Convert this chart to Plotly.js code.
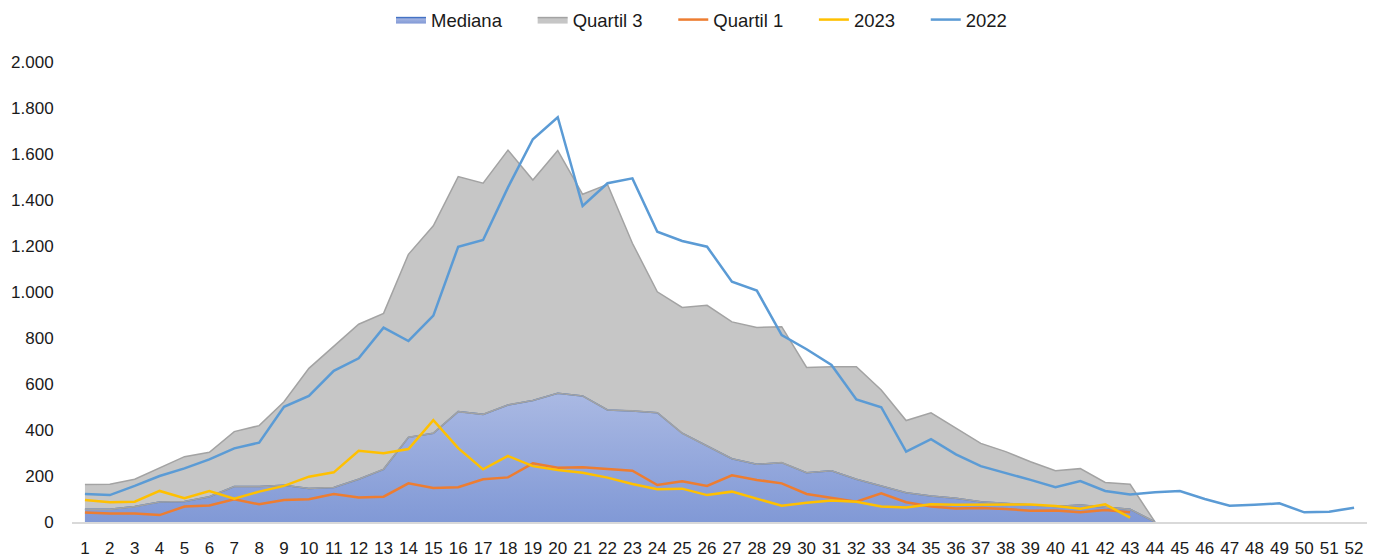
<!DOCTYPE html>
<html>
<head>
<meta charset="utf-8">
<script src="https://cdn.plot.ly/plotly-3.0.1.min.js"></script>
<style>html,body{margin:0;padding:0;background:#fff;}#chart{width:1383px;height:557px;}</style>
</head>
<body>
<div id="chart"></div>
<script>
const weeks = [1,2,3,4,5,6,7,8,9,10,11,12,13,14,15,16,17,18,19,20,21,22,23,24,25,26,27,28,29,30,31,32,33,34,35,36,37,38,39,40,41,42,43,44,45,46,47,48,49,50,51,52];

const weeksArea = [1,2,3,4,5,6,7,8,9,10,11,12,13,14,15,16,17,18,19,20,21,22,23,24,25,26,27,28,29,30,31,32,33,34,35,36,37,38,39,40,41,42,43,44];
const mediana = [55,55,67,87,89,110,154,154,160,146,150,186,229,368,386,480,468,509,528,560,548,487,483,475,386,330,275,251,258,214,223,186,157,127,113,103,88,81,71,67,74,64,55,0];
const quartil3 = [163,164,186,236,284,303,393,419,523,668,765,860,907,1164,1288,1502,1473,1617,1487,1615,1425,1468,1212,1001,933,942,870,846,849,672,675,675,574,441,475,407,342,306,262,223,232,172,164,0];

const weeksPart = [1,2,3,4,5,6,7,8,9,10,11,12,13,14,15,16,17,18,19,20,21,22,23,24,25,26,27,28,29,30,31,32,33,34,35,36,37,38,39,40,41,42,43];
const quartil1 = [41,37,37,30,67,72,99,77,96,99,122,107,110,168,148,151,186,194,255,236,238,232,223,161,177,157,203,183,168,122,104,88,125,86,67,59,61,57,49,50,42,52,42];
const y2023 = [96,86,88,135,103,135,101,132,157,197,216,310,299,317,443,321,229,287,243,226,214,193,165,142,145,117,132,103,71,84,93,88,67,63,77,75,76,77,76,70,58,77,19];

const y2022 = [122,117,157,200,233,272,320,345,501,548,657,712,845,787,897,1197,1226,1455,1664,1760,1374,1473,1494,1262,1222,1197,1045,1006,813,751,683,533,499,306,360,294,243,214,183,151,178,135,120,129,135,100,71,75,81,42,45,62];

const seriesNames = ['Mediana', 'Quartil 3', 'Quartil 1', '2023', '2022'];

const yTicks = [0,200,400,600,800,1000,1200,1400,1600,1800,2000];
const yTickText = ['0','200','400','600','800','1.000','1.200','1.400','1.600','1.800','2.000'];

const pad = '\u00A0\u00A0\u00A0\u00A0\u00A0';

const traces = [
  {
    name: seriesNames[1] + pad, x: weeksArea, y: quartil3, type: 'scatter', mode: 'lines',
    fill: 'tozeroy', fillcolor: '#C6C6C6',
    line: {color: '#A3A3A3', width: 1.5},
    legendrank: 2, hoverinfo: 'skip'
  },
  {
    name: seriesNames[0] + pad, x: weeksArea, y: mediana, type: 'scatter', mode: 'lines',
    fill: 'tozeroy',
    fillgradient: {type: 'vertical', colorscale: [[0, '#8199D6'], [1, '#AAB9E3']]},
    fillcolor: '#97A9DC',
    line: {color: '#4472C4', width: 1.5},
    legendrank: 1, hoverinfo: 'skip'
  },
  {
    name: 'edge', x: weeksArea, y: mediana, type: 'scatter', mode: 'lines',
    line: {color: '#A3A3A3', width: 1.6}, showlegend: false, hoverinfo: 'skip'
  },
  {
    name: seriesNames[2] + pad, x: weeksPart, y: quartil1, type: 'scatter', mode: 'lines',
    line: {color: '#ED7D31', width: 2.5}, legendrank: 3
  },
  {
    name: seriesNames[3] + pad, x: weeksPart, y: y2023, type: 'scatter', mode: 'lines',
    line: {color: '#FFC000', width: 2.5}, legendrank: 4
  },
  {
    name: seriesNames[4], x: weeks, y: y2022, type: 'scatter', mode: 'lines',
    line: {color: '#5B9BD5', width: 2.5}, legendrank: 5
  }
];

const layout = {
  width: 1383, height: 557,
  margin: {l: 72, r: 16, t: 62, b: 35},
  paper_bgcolor: '#ffffff', plot_bgcolor: '#ffffff',
  font: {family: '"Liberation Sans", Arial, sans-serif', color: '#1a1a1a', size: 17},
  showlegend: true,
  legend: {
    orientation: 'h', xref: 'container', x: 0.2827, xanchor: 'left', yref: 'container', y: 0.964, yanchor: 'middle',
    font: {size: 18.5, color: '#1a1a1a'}, traceorder: 'normal'
  },
  xaxis: {
    type: 'linear', range: [0.48, 52.52],
    tickmode: 'array', tickvals: weeks, ticktext: weeks.map(String),
    showgrid: false, zeroline: false,
    showline: true, linecolor: '#D9D9D9', linewidth: 1.5,
    ticks: 'outside', ticklen: 10, tickcolor: 'rgba(0,0,0,0)',
    tickfont: {size: 17}
  },
  yaxis: {
    range: [0, 2000],
    tickmode: 'array', tickvals: yTicks, ticktext: yTickText,
    showgrid: false, zeroline: false, showline: false,
    ticks: 'outside', ticklen: 14, tickcolor: 'rgba(0,0,0,0)',
    tickfont: {size: 17}
  }
};

Plotly.newPlot('chart', traces, layout, {displayModeBar: false, staticPlot: true});
</script>
</body>
</html>
